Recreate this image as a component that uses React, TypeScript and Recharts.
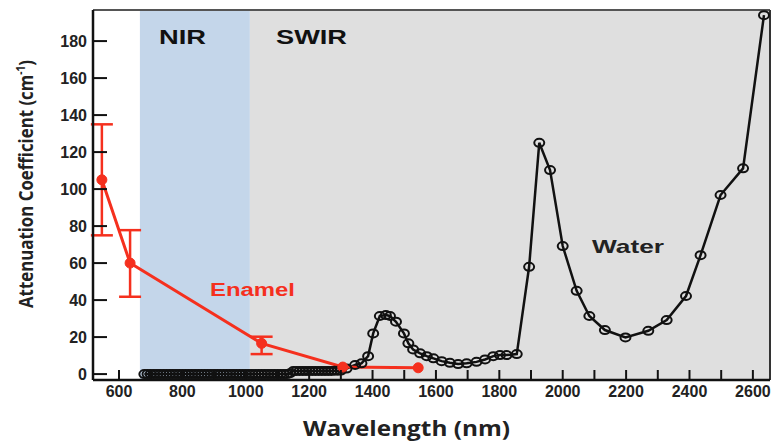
import React from 'react';
import {
  ComposedChart,
  Line,
  XAxis,
  YAxis,
  ReferenceArea,
  ReferenceLine,
  ErrorBar,
} from 'recharts';

// water absorption (open circles)
const waterWavelength = [
  680, 690, 700, 710, 720, 730, 740, 750, 760, 770, 780, 790, 800, 810, 820, 830,
  840, 850, 860, 870, 880, 890, 900, 910, 920, 930, 940, 950, 960, 970, 980, 990,
  1000, 1010, 1020, 1030, 1040, 1050, 1060, 1070, 1080, 1090, 1100, 1110, 1120,
  1130, 1140, 1150, 1160, 1170, 1180, 1190, 1200, 1210, 1220, 1230, 1240, 1250,
  1260, 1270, 1280, 1290, 1300,
  1318, 1345, 1365, 1386, 1402, 1423, 1442, 1455, 1474, 1499, 1513, 1528, 1550,
  1571, 1592, 1618, 1644, 1670, 1697, 1728, 1755, 1781, 1802, 1823, 1855, 1894,
  1926, 1960, 2000, 2044, 2084, 2133, 2198, 2270, 2328, 2389, 2435, 2498, 2569,
  2635,
];
const waterValue = [
  0, 0, 0, 0, 0, 0, 0, 0, 0, 0, 0, 0, 0, 0, 0, 0,
  0, 0, 0, 0, 0, 0, 0, 0, 0, 0, 0, 0, 0, 0, 0, 0,
  0, 0, 0, 0, 0, 0, 0, 0, 0, 0, 0, 0, 0,
  0, 0.5, 1.6, 1.7, 1.7, 1.7, 1.7, 1.7, 1.7, 1.7, 1.7, 1.7, 1.7,
  1.7, 1.7, 1.8, 1.8, 1.9,
  3, 4.9, 5.8, 9.7, 22, 31.4, 31.9, 31.4, 28.3, 22, 16.6, 13.3, 11.2,
  9.7, 8.5, 7, 6.1, 5.4, 5.8, 6.6, 7.9, 9.7, 10.3, 10.3, 10.8, 58,
  125, 110.3, 69.2, 45, 31.4, 23.8, 19.8, 23.4, 29.2, 42.2, 64.3, 96.8, 111.2,
  194,
];

// enamel attenuation (red)
const enamelWavelength = [546, 635, 1050, 1306, 1544];
const enamelValue = [105, 60, 16.6, 3.8, 3.4];
// [below, above] error at the first three points
const enamelError = [
  [30, 30],
  [18.2, 17.8],
  [5.8, 3.6],
];

const xTicks = [
  600, 700, 800, 900, 1000, 1100, 1200, 1300, 1400, 1500, 1600, 1700, 1800,
  1900, 2000, 2100, 2200, 2300, 2400, 2500, 2600,
];
const yTicks = [0, 20, 40, 60, 80, 100, 120, 140, 160, 180];

const X_DOMAIN: [number, number] = [518, 2654];
const Y_DOMAIN: [number, number] = [-3.2, 196.8];
const NIR_BAND = [666, 1013];

const RED = '#f5301e';
const TICK_FONT = '"Liberation Sans", Arial, sans-serif';

const waterData = waterWavelength.map((wl, i) => ({ wl, v: waterValue[i] }));
const enamelData = enamelWavelength.map((wl, i) => ({ wl, v: enamelValue[i] }));
const enamelErrData = enamelError.map((err, i) => ({
  wl: enamelWavelength[i],
  v: enamelValue[i],
  err,
}));

const XTick = (props: any) => {
  const { x, y, payload } = props;
  const showLabel = payload.value % 200 === 0;
  return (
    <g>
      <line x1={x} x2={x} y1={y} y2={y - 10} stroke="#111" strokeWidth={2} />
      {showLabel && (
        <text
          x={x}
          y={y + 17}
          textAnchor="middle"
          fontFamily={TICK_FONT}
          fontWeight="bold"
          fontSize={16}
          fill="#222"
        >
          {payload.value}
        </text>
      )}
    </g>
  );
};

const YTick = (props: any) => {
  const { x, y, payload } = props;
  return (
    <g>
      <line x1={x} x2={x + 14} y1={y} y2={y} stroke="#111" strokeWidth={2} />
      <text
        x={x - 6}
        y={y + 5.5}
        textAnchor="end"
        fontFamily={TICK_FONT}
        fontWeight="bold"
        fontSize={16}
        fill="#222"
      >
        {payload.value}
      </text>
    </g>
  );
};

const WaterDot = (props: any) => {
  const { cx, cy, index } = props;
  if (cx == null || cy == null) return <g key={index} />;
  return (
    <ellipse
      key={index}
      cx={cx}
      cy={cy}
      rx={5}
      ry={4}
      fill="none"
      stroke="#111"
      strokeWidth={2}
    />
  );
};

export default function App() {
  return (
    <div style={{ position: 'absolute', left: 0, top: 0, width: 772, height: 445, background: '#fff' }}>
      <ComposedChart
        width={772}
        height={445}
        margin={{ top: 10, right: 2, bottom: 0, left: 0 }}
      >
        <ReferenceArea
          x1={NIR_BAND[0]}
          x2={NIR_BAND[1]}
          y1={Y_DOMAIN[0]}
          y2={Y_DOMAIN[1]}
          fill="#c4d6ea"
          fillOpacity={1}
          stroke="none"
        />
        <ReferenceArea
          x1={NIR_BAND[1]}
          x2={X_DOMAIN[1]}
          y1={Y_DOMAIN[0]}
          y2={Y_DOMAIN[1]}
          fill="#dfdfdf"
          fillOpacity={1}
          stroke="none"
        />
        <XAxis
          type="number"
          dataKey="wl"
          domain={X_DOMAIN}
          ticks={xTicks}
          interval={0}
          allowDataOverflow
          height={65}
          tickSize={0}
          tickMargin={0}
          tickLine={false}
          axisLine={{ stroke: '#111', strokeWidth: 2.5 }}
          tick={<XTick />}
        />
        <YAxis
          type="number"
          domain={Y_DOMAIN}
          ticks={yTicks}
          interval={0}
          allowDataOverflow
          width={93}
          tickSize={0}
          tickMargin={0}
          tickLine={false}
          axisLine={{ stroke: '#111', strokeWidth: 2.5 }}
          tick={<YTick />}
        />
        <ReferenceLine y={Y_DOMAIN[1]} stroke="#555" strokeWidth={2} />
        <ReferenceLine x={X_DOMAIN[1]} stroke="#333" strokeWidth={2} />
        <Line
          data={waterData}
          dataKey="v"
          type="linear"
          stroke="#111"
          strokeWidth={2.5}
          dot={WaterDot}
          activeDot={false}
          isAnimationActive={false}
        />
        <Line
          data={enamelData}
          dataKey="v"
          type="linear"
          stroke={RED}
          strokeWidth={3}
          dot={{ r: 5, fill: RED, stroke: RED, strokeWidth: 1 }}
          activeDot={false}
          isAnimationActive={false}
        />
        <Line
          data={enamelErrData}
          dataKey="v"
          stroke="none"
          dot={false}
          activeDot={false}
          isAnimationActive={false}
        >
          <ErrorBar dataKey="err" direction="y" width={11} stroke={RED} strokeWidth={2.5} />
        </Line>
      </ComposedChart>
      <svg
        width={772}
        height={445}
        style={{ position: 'absolute', left: 0, top: 0, pointerEvents: 'none' }}
      >
        <g fontFamily='"Liberation Sans", Arial, sans-serif' fontWeight="bold">
          <text x={159} y={43.5} fontSize={21} fill="#111" textLength={47} lengthAdjust="spacingAndGlyphs">
            NIR
          </text>
          <text x={276} y={43.5} fontSize={21} fill="#111" textLength={71} lengthAdjust="spacingAndGlyphs">
            SWIR
          </text>
          <text x={592} y={253} fontSize={19} fill="#222" textLength={72} lengthAdjust="spacingAndGlyphs">
            Water
          </text>
          <text x={210} y={295.5} fontSize={18} fill={RED} textLength={85} lengthAdjust="spacingAndGlyphs">
            Enamel
          </text>
        </g>
        <text
          x={303}
          y={435.5}
          fontFamily='"Open Sans", sans-serif'
          fontWeight="bold"
          fontSize={22}
          fill="#222"
          textLength={207}
          lengthAdjust="spacingAndGlyphs"
        >
          Wavelength (nm)
        </text>
        <text
          x={33}
          y={184}
          transform="rotate(-90 33 184)"
          textAnchor="middle"
          fontFamily='"Liberation Sans Narrow", "Open Sans", sans-serif'
          fontWeight="bold"
          fontSize={20}
          fill="#222"
          textLength={248}
          lengthAdjust="spacingAndGlyphs"
        >
          Attenuation Coefficient (cm
          <tspan fontSize={12} dy={-8}>-1</tspan>
          <tspan dy={8}>)</tspan>
        </text>
      </svg>
    </div>
  );
}
